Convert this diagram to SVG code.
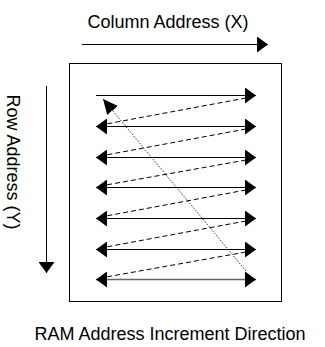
<svg xmlns="http://www.w3.org/2000/svg" width="325" height="347" viewBox="0 0 325 347">
<style>
text{font-family:"Liberation Sans",Arial,sans-serif;font-size:18px;fill:#000}
.ln{stroke:#000;stroke-width:1;fill:none}
.dash{stroke:#000;stroke-width:1;fill:none;stroke-dasharray:5 3}
.dot{stroke:#000;stroke-width:0.8;fill:none;stroke-dasharray:1.5 1.5}
</style>
<defs>
<marker id="ah" markerUnits="userSpaceOnUse" viewBox="0 0 11 16" refX="11" refY="8" markerWidth="11" markerHeight="16" orient="auto-start-reverse">
<path d="M0,0 L11,8 L0,16 Z" fill="#000"/>
</marker>
<marker id="ahd" markerUnits="userSpaceOnUse" viewBox="0 0 15 14" refX="15" refY="7" markerWidth="15" markerHeight="14" orient="auto">
<path d="M0,0 L15,7 L0,14 Z" fill="#000"/>
</marker>
</defs>
<g id="col-label"><text x="168" y="28" text-anchor="middle">Column Address (X)</text></g>
<g id="row-label"><text transform="translate(7,162) rotate(90)" text-anchor="middle">Row Address (Y)</text></g>
<g id="caption"><text x="170" y="340" text-anchor="middle">RAM Address Increment Direction</text></g>
<g id="ram-box"><rect x="69.5" y="63.5" width="212" height="238" fill="none" stroke="#000" stroke-width="1"/></g>
<g id="connectors">
<line class="ln" x1="82" y1="44.5" x2="268" y2="44.5" marker-end="url(#ah)"/>
<line class="ln" x1="46.5" y1="86" x2="46.5" y2="273" marker-end="url(#ah)"/>
<line class="ln" x1="96" y1="95.5" x2="256" y2="95.5" marker-end="url(#ah)"/>
<line class="ln" x1="96" y1="126.5" x2="256" y2="126.5" marker-start="url(#ah)" marker-end="url(#ah)"/>
<line class="ln" x1="96" y1="157.5" x2="256" y2="157.5" marker-start="url(#ah)" marker-end="url(#ah)"/>
<line class="ln" x1="96" y1="187.5" x2="256" y2="187.5" marker-start="url(#ah)" marker-end="url(#ah)"/>
<line class="ln" x1="96" y1="218.5" x2="256" y2="218.5" marker-start="url(#ah)" marker-end="url(#ah)"/>
<line class="ln" x1="96" y1="249.5" x2="256" y2="249.5" marker-start="url(#ah)" marker-end="url(#ah)"/>
<line class="ln" x1="96" y1="279.5" x2="256" y2="279.5" stroke="#666" style="stroke:#666;stroke-width:1.5" marker-start="url(#ah)" marker-end="url(#ah)"/>
<line class="dash" x1="246" y1="98" x2="106" y2="124"/>
<line class="dash" x1="246" y1="129" x2="106" y2="155"/>
<line class="dash" x1="246" y1="160" x2="106" y2="185"/>
<line class="dash" x1="246" y1="190" x2="106" y2="216"/>
<line class="dash" x1="246" y1="221" x2="106" y2="247"/>
<line class="dash" x1="246" y1="252" x2="106" y2="277"/>
<line class="dot" x1="246" y1="271" x2="103" y2="99" marker-end="url(#ahd)"/>
</g>
</svg>
